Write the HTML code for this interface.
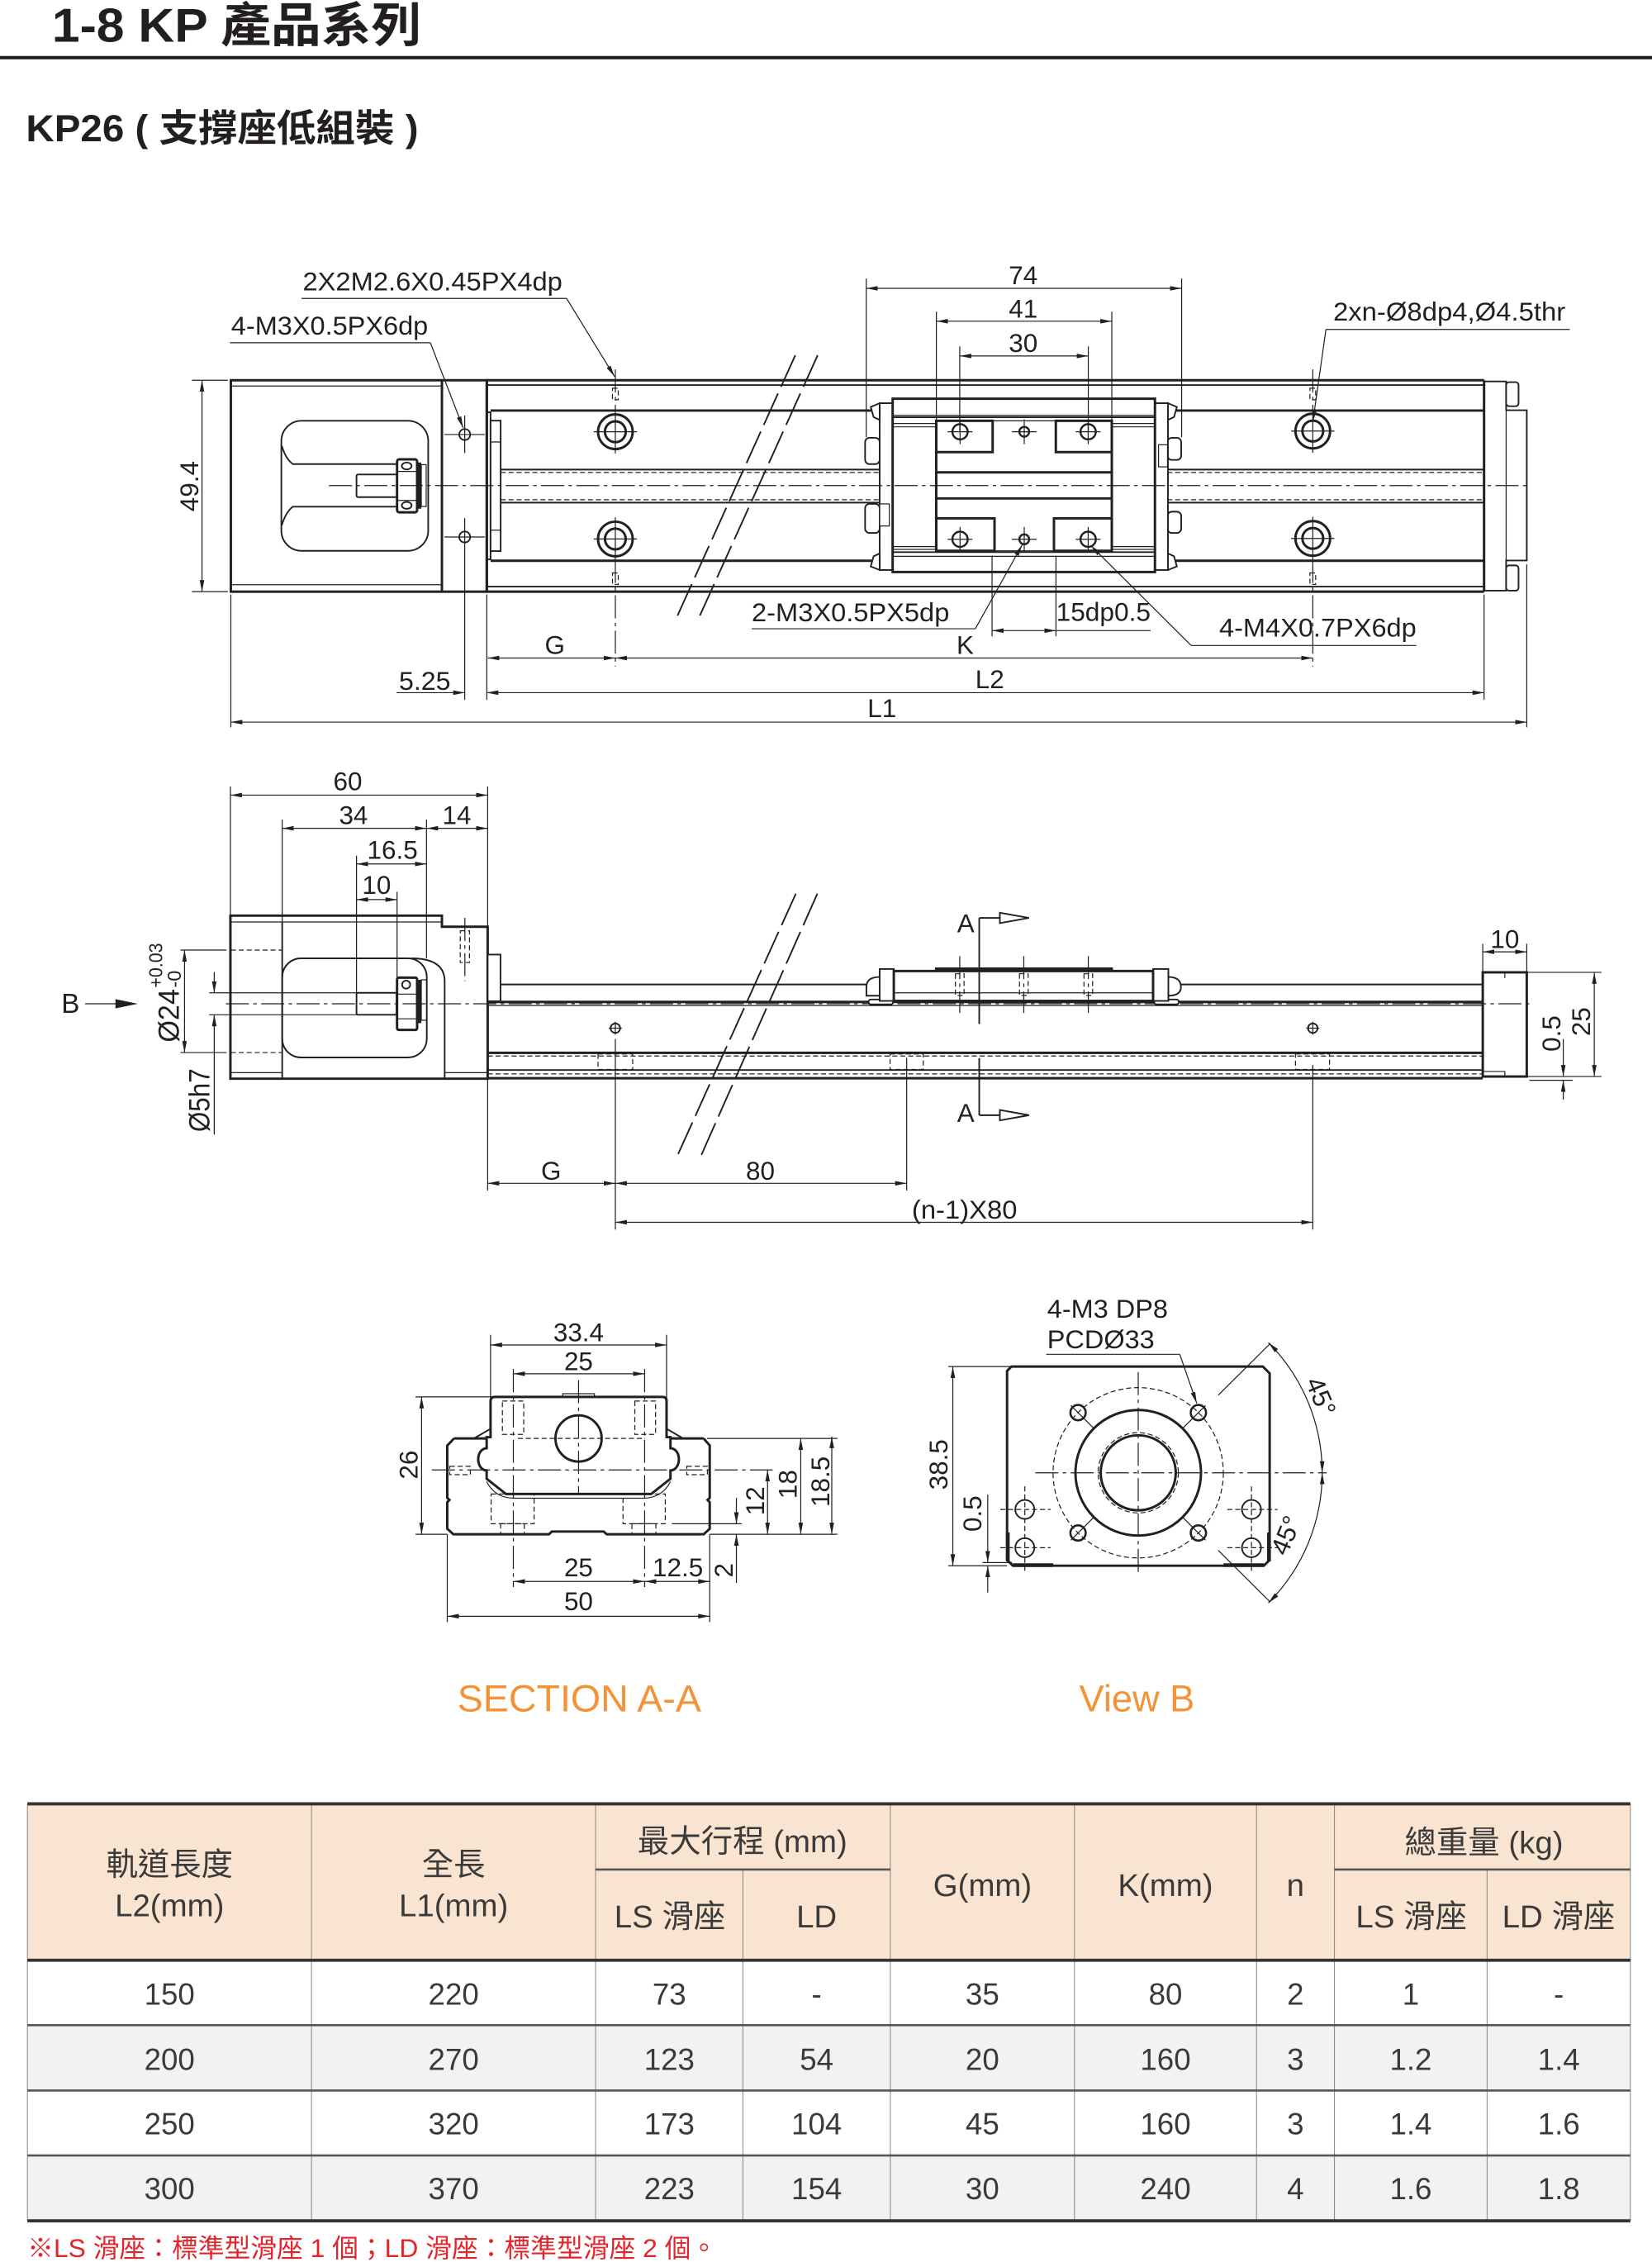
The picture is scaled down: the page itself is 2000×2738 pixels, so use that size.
<!DOCTYPE html>
<html><head><meta charset="utf-8"><title>KP26</title>
<style>
html,body{margin:0;padding:0;background:#fff;overflow:hidden;width:2000px;height:2738px}
svg{display:block}
.t{stroke:#231f20;stroke-width:.7;fill:none}
.m{stroke:#231f20;stroke-width:1.1;fill:none}
.k{stroke:#231f20;stroke-width:1.7;fill:none}
.w{fill:#fff}
.h{stroke-dasharray:3.5 2}
.c{stroke-dasharray:16 3 2.5 3}
.bk{stroke-dasharray:24 5}
.d{stroke:#231f20;stroke-width:.7;fill:none;marker-start:url(#ar);marker-end:url(#ar)}
.e{stroke:#231f20;stroke-width:.7;fill:none;marker-end:url(#ar)}
text{font-family:"Liberation Sans","Noto Sans CJK TC",sans-serif;font-size:18px;fill:#231f20}
.mid{text-anchor:middle}
.tb{font-size:21px;fill:#3a3a3a;text-anchor:middle}
.th{font-size:22px;fill:#3a3a3a;text-anchor:middle}
</style></head>
<body>
<svg xmlns="http://www.w3.org/2000/svg" width="2000" height="2738" viewBox="0 0 1145 1567.5" preserveAspectRatio="none">
<defs>
<marker id="ar" viewBox="0 0 10 4" refX="10" refY="2" markerWidth="8" markerHeight="3.2" markerUnits="userSpaceOnUse" orient="auto-start-reverse"><path d="M0,0L10,2L0,4z" fill="#231f20"/></marker>
</defs>
<rect x="0" y="0" width="1145" height="1567.5" fill="#fff"/>

<!-- ===== Header ===== -->
<text x="36" y="29" style="font-size:33px;font-weight:bold" textLength="256" lengthAdjust="spacingAndGlyphs">1-8 KP 產品系列</text>
<rect x="0" y="38.8" width="1145" height="2.3" fill="#231f20"/>
<text x="18" y="98" style="font-size:26px;font-weight:bold" textLength="272" lengthAdjust="spacingAndGlyphs">KP26 ( 支撐座低組裝 )</text>

<!-- ===== TOP VIEW ===== -->
<line class="t" x1="133" y1="263.5" x2="158" y2="263.5"/>
<line class="t" x1="133" y1="410" x2="158" y2="410"/>
<line class="d" x1="140" y1="263.5" x2="140" y2="410"/>
<text transform="translate(137.5,337) rotate(-90)" class="mid">49.4</text>

<!-- motor block -->
<rect class="k" x="160" y="263.5" width="177.4" height="146.5"/>
<line class="k" x1="306.3" y1="263.5" x2="306.3" y2="410"/>
<line class="t" x1="160" y1="267.5" x2="306.3" y2="267.5"/>
<line class="t" x1="160" y1="405.2" x2="306.3" y2="405.2"/>
<rect class="m" x="195" y="291.6" width="101.8" height="90.1" rx="14"/>
<path class="m" d="M195.3,309 Q198,318 203,321.6 L275.2,321.6 M195.3,364 Q198,355 203,351.1 L275.2,351.1"/>
<rect class="m w" x="247.1" y="328.8" width="28.1" height="15.7" rx="1"/>
<rect class="k w" x="275.2" y="318.3" width="13.9" height="36.7" rx="1.5"/>
<ellipse class="m" cx="281.9" cy="322.9" rx="3.4" ry="2.4"/>
<ellipse class="m" cx="281.9" cy="350.2" rx="3.4" ry="2.4"/>
<line class="t" x1="275.2" y1="326.7" x2="289.1" y2="326.7"/>
<line class="t" x1="275.2" y1="346.8" x2="289.1" y2="346.8"/>
<rect x="289.1" y="320.5" width="2.9" height="32" fill="#231f20"/>
<rect class="t" x="292" y="322" width="3.4" height="29"/>
<circle class="m" cx="322.1" cy="301.1" r="3.8"/>
<circle class="m" cx="322.1" cy="372.1" r="3.8"/>
<path class="t" d="M308,301.1h28M322.1,288v26M308,372.1h28M322.1,359v126"/>

<!-- rail -->
<line class="k" x1="337.4" y1="263.5" x2="1028.6" y2="263.5"/>
<line class="m" x1="337.4" y1="266.8" x2="1028.6" y2="266.8"/>
<line class="k" x1="340" y1="284.5" x2="1028.6" y2="284.5"/>
<line class="k" x1="340" y1="388.6" x2="1028.6" y2="388.6"/>
<line class="m" x1="337.4" y1="406.5" x2="1028.6" y2="406.5"/>
<line class="k" x1="337.4" y1="410" x2="1028.6" y2="410"/>
<line class="k" x1="337.4" y1="263.5" x2="337.4" y2="410"/>
<line class="k" x1="1028.6" y1="263.5" x2="1028.6" y2="410"/>
<rect class="m" x="337.4" y="285.7" width="2.6" height="101.9"/>
<rect class="m w" x="340" y="291.5" width="7" height="90.4"/>
<path class="t" d="M340,306.3h7M340,367.4h7"/>
<line class="m" x1="347" y1="325.4" x2="1028.6" y2="325.4"/>
<line class="t h" x1="347" y1="327.4" x2="1028.6" y2="327.4"/>
<line class="t h" x1="347" y1="346.3" x2="1028.6" y2="346.3"/>
<line class="m" x1="347" y1="348.3" x2="1028.6" y2="348.3"/>

<!-- counterbores -->
<g class="k">
<circle cx="426.5" cy="299.2" r="12"/><circle cx="426.5" cy="299.2" r="7.2"/>
<circle cx="426.5" cy="373.5" r="12"/><circle cx="426.5" cy="373.5" r="7.2"/>
<circle cx="909.9" cy="298.7" r="12"/><circle cx="909.9" cy="298.7" r="7.2"/>
<circle cx="909.9" cy="373.1" r="12"/><circle cx="909.9" cy="373.1" r="7.2"/>
</g>
<path class="t" d="M411.5,299.2h30M426.5,284.2v30M411.5,373.5h30M426.5,358.5v30M894.9,298.7h30M909.9,283.7v30M894.9,373.1h30M909.9,358.1v30"/>
<path class="t c" d="M426.5,256v28M426.5,388v74M909.9,256v28M909.9,388v74"/>
<rect class="t h" x="424.5" y="269" width="4" height="8"/>
<rect class="t h" x="424.5" y="397" width="4" height="8"/>
<rect class="t h" x="907.9" y="269" width="4" height="8"/>
<rect class="t h" x="907.9" y="397" width="4" height="8"/>

<!-- right end cap -->
<path class="m" d="M1028.6,264.3H1043.9V284.3H1058.2V388.4H1043.9V409.3H1028.6"/>
<line class="t" x1="1043.9" y1="266.8" x2="1043.9" y2="406.5"/>
<rect class="m w" x="1043.9" y="264.8" width="8.6" height="16.7" rx="2"/>
<rect class="m w" x="1043.9" y="391.8" width="8.6" height="17.5" rx="2"/>

<!-- break lines -->
<line class="m bk" x1="551.2" y1="246.2" x2="468.9" y2="428.1"/>
<line class="m bk" x1="566.7" y1="246.2" x2="484.4" y2="428.1"/>

<!-- carriage top view -->
<rect class="m w" x="599.6" y="303.4" width="10.1" height="18.2" rx="3"/>
<rect class="m w" x="599.6" y="349.2" width="10.1" height="20.1" rx="3"/>
<rect class="m w" x="809.2" y="303.4" width="9.5" height="15.3" rx="3"/>
<rect class="m w" x="809.2" y="354.6" width="9.5" height="14.7" rx="3"/>
<rect class="m w" x="609.7" y="279.4" width="9" height="115.6"/>
<rect class="m w" x="800.5" y="279.4" width="9" height="115.6"/>
<rect class="t w" x="609.7" y="349.2" width="6.7" height="15.3"/>
<rect class="t w" x="803" y="308.2" width="6.2" height="15.3"/>
<polygon class="m w" points="603.5,282 609.7,279.4 609.7,291 605.5,289"/>
<polygon class="m w" points="603.5,392.5 609.7,395 609.7,383.5 605.5,385.5"/>
<polygon class="m w" points="815.7,282 809.5,279.4 809.5,291 813.7,289"/>
<polygon class="m w" points="815.7,392.5 809.5,395 809.5,383.5 813.7,385.5"/>
<rect class="k w" x="618.7" y="276.3" width="181.8" height="120.1"/>
<path class="t" d="M618.7,287.8H800.5M618.7,385.5H800.5"/>
<path class="m" d="M618.7,289.1H800.5M618.7,382.6H800.5"/>
<path class="t" d="M618.7,293.5H648.9M618.7,295.8H648.9M618.7,378.8H648.9M618.7,380.7H648.9M770.6,293.5H800.5M770.6,295.8H800.5M770.6,378.8H800.5M770.6,380.7H800.5"/>
<g class="k">
<line x1="648.9" y1="291.6" x2="648.9" y2="381.7"/>
<line x1="770.6" y1="291.6" x2="770.6" y2="381.7"/>
<rect x="648.9" y="291.6" width="39.1" height="21.7"/>
<rect x="731.8" y="291.6" width="38.8" height="21.7"/>
<line x1="648.9" y1="327.3" x2="770.6" y2="327.3"/>
<line x1="648.9" y1="345.4" x2="770.6" y2="345.4"/>
<rect x="648.9" y="359.2" width="40.4" height="22.5"/>
<rect x="730.5" y="359.2" width="40.1" height="22.5"/>
</g>
<path class="t" d="M688,291.6H731.8M689.3,381.7H730.5"/>
<g class="k" style="stroke-width:1.4">
<circle cx="665.4" cy="299.2" r="5.3"/><circle cx="709.9" cy="299.2" r="3.4"/><circle cx="754.2" cy="299.2" r="5.3"/>
<circle cx="665.4" cy="373.7" r="5.3"/><circle cx="709.9" cy="373.7" r="3.4"/><circle cx="754.2" cy="373.7" r="5.3"/>
</g>
<path class="t" d="M656.8,299.2h17.2M665.4,290.6v17.2M701.3,299.2h17.2M709.9,290.6v17.2M745.6,299.2h17.2M754.2,290.6v17.2M656.8,373.7h17.2M665.4,365.1v17.2M701.3,373.7h17.2M709.9,365.1v17.2M745.6,373.7h17.2M754.2,365.1v17.2"/>

<line class="t c" x1="228" y1="336.5" x2="1060" y2="336.5"/>

<!-- top dims -->
<line class="d" x1="600.4" y1="199.8" x2="819" y2="199.8"/>
<path class="t" d="M600.4,193V303M819,193V303"/>
<text x="709.2" y="197" class="mid">74</text>
<line class="d" x1="649" y1="222.6" x2="770.6" y2="222.6"/>
<path class="t" d="M649,216V291.6M770.6,216V291.6"/>
<text x="709.2" y="220" class="mid">41</text>
<line class="d" x1="665.2" y1="246.7" x2="754.3" y2="246.7"/>
<path class="t" d="M665.2,240V299M754.3,240V299"/>
<text x="709.2" y="244" class="mid">30</text>

<!-- leaders -->
<text x="209.8" y="201.3" textLength="180" lengthAdjust="spacingAndGlyphs">2X2M2.6X0.45PX4dp</text>
<line class="t" x1="209" y1="206.8" x2="392.7" y2="206.8"/>
<line class="e" x1="392.7" y1="206.8" x2="426" y2="261"/>
<text x="160.2" y="231.9" textLength="136.5" lengthAdjust="spacingAndGlyphs">4-M3X0.5PX6dp</text>
<line class="t" x1="159.4" y1="237.5" x2="298.3" y2="237.5"/>
<line class="e" x1="298.3" y1="237.5" x2="321" y2="296.5"/>
<text x="924" y="222" textLength="161" lengthAdjust="spacingAndGlyphs">2xn-Ø8dp4,Ø4.5thr</text>
<line class="t" x1="919" y1="228.3" x2="1088" y2="228.3"/>
<line class="e" x1="919" y1="228.3" x2="910" y2="292"/>
<text x="521" y="430.5" textLength="137" lengthAdjust="spacingAndGlyphs">2-M3X0.5PX5dp</text>
<line class="t" x1="521" y1="435.7" x2="676" y2="435.7"/>
<line class="e" x1="676" y1="435.7" x2="708.5" y2="377.5"/>
<text x="732" y="430.2" textLength="65.5" lengthAdjust="spacingAndGlyphs">15dp0.5</text>
<path class="t" d="M687.6,385V441M731.9,385V441"/>
<line class="d" x1="687.6" y1="437" x2="731.9" y2="437"/>
<line class="t" x1="731.9" y1="437" x2="797.5" y2="437"/>
<text x="669" y="453" class="mid">K</text>
<text x="845" y="441" textLength="136.7" lengthAdjust="spacingAndGlyphs">4-M4X0.7PX6dp</text>
<line class="t" x1="825.6" y1="447.3" x2="981.7" y2="447.3"/>
<line class="e" x1="825.6" y1="447.3" x2="756" y2="378"/>

<!-- bottom dims top view -->
<path class="t" d="M160,412V504M337.4,412V485M1028.6,412V485M1058.2,391V504"/>
<line class="d" x1="338" y1="456" x2="426.5" y2="456"/>
<line class="d" x1="426.5" y1="456" x2="909.9" y2="456"/>
<text x="384.6" y="453" class="mid">G</text>
<line class="e" x1="274.8" y1="480" x2="322.1" y2="480"/>
<text x="276.5" y="478" textLength="35.8" lengthAdjust="spacingAndGlyphs">5.25</text>
<line class="d" x1="337.4" y1="480" x2="1028.6" y2="480"/>
<text x="686" y="477" class="mid">L2</text>
<line class="d" x1="160" y1="500.4" x2="1058.2" y2="500.4"/>
<text x="611.3" y="497" class="mid">L1</text>

<!-- ===== SIDE VIEW ===== -->
<path class="t" d="M159.7,545V634.5M338,545V642M195.6,568V639M295.6,568V664M247.1,593V688M275.2,618V677.5"/>
<line class="d" x1="159.7" y1="551" x2="338" y2="551"/>
<text x="241" y="547.5" class="mid">60</text>
<line class="d" x1="195.6" y1="574" x2="295.6" y2="574"/>
<line class="d" x1="295.6" y1="574" x2="338" y2="574"/>
<text x="245" y="571" class="mid">34</text>
<text x="316.6" y="571" class="mid">14</text>
<line class="d" x1="247.1" y1="598.7" x2="295.6" y2="598.7"/>
<text x="272" y="595" class="mid">16.5</text>
<line class="d" x1="247.1" y1="623.4" x2="275.2" y2="623.4"/>
<text x="261" y="619.5" class="mid">10</text>

<!-- motor block side -->
<path class="k" d="M159.7,634.5H306.3V642.2H338V747.5H159.7Z"/>
<line class="t" x1="159.7" y1="638.9" x2="306.3" y2="638.9"/>
<path class="t" d="M159.7,743.3H195.6M308.2,743.3H338"/>
<line class="m" x1="195.6" y1="638.9" x2="195.6" y2="747.5"/>
<rect class="m" x="195.6" y="664.1" width="100.2" height="68.7" rx="13"/>
<path class="m" d="M285,664.1 Q308.2,664.1 308.2,680 L308.2,747.5"/>
<path class="t h" d="M160,658.4H195.6M160,729.4H195.6"/>
<rect class="m w" x="247.1" y="688" width="27.7" height="15.2" rx="1"/>
<rect class="k w" x="275.2" y="677.5" width="13.9" height="36.2" rx="1.2"/>
<circle class="m" cx="281.5" cy="682.3" r="2.8"/>
<path class="t" d="M275.2,688.9h13.9M275.2,706h13.9"/>
<rect x="289.1" y="679" width="2.9" height="30" fill="#231f20"/>
<rect class="t" x="292" y="679" width="3.8" height="28"/>
<rect class="t h" x="319" y="645" width="6.4" height="22"/>
<line class="t c" x1="322.2" y1="636" x2="322.2" y2="680"/>
<rect class="m w" x="338" y="661.5" width="8.9" height="32.3"/>

<!-- Ø24, Ø5h7, B -->
<path class="t" d="M125,658.4H157M125,729.4H157M145,688H247.1M145,703.2H247.1"/>
<line class="d" x1="127.9" y1="658.4" x2="127.9" y2="729.4"/>
<line class="e" x1="148.5" y1="673.6" x2="148.5" y2="688"/>
<line class="e" x1="148.5" y1="786.2" x2="148.5" y2="703.2"/>
<text transform="translate(124,722.3) rotate(-90)" style="font-size:20px" textLength="37" lengthAdjust="spacingAndGlyphs">Ø24</text>
<text transform="translate(112.6,684.5) rotate(-90)" style="font-size:13px" textLength="31" lengthAdjust="spacingAndGlyphs">+0.03</text>
<text transform="translate(125.5,684.5) rotate(-90)" style="font-size:13px" textLength="12" lengthAdjust="spacingAndGlyphs">-0</text>
<text transform="translate(145,784.4) rotate(-90)" style="font-size:20px" textLength="44" lengthAdjust="spacingAndGlyphs">Ø5h7</text>
<text x="42.5" y="702" style="font-size:19px">B</text>
<line class="t" x1="59" y1="695.6" x2="82" y2="695.6"/>
<polygon points="80,692.4 95.5,695.6 80,698.8" fill="#231f20"/>

<!-- rail side -->
<line class="m" x1="346.9" y1="682.2" x2="1027.7" y2="682.2"/>
<line class="k" x1="338" y1="694.3" x2="1027.7" y2="694.3"/>
<line class="t" x1="338" y1="696.8" x2="1027.7" y2="696.8"/>
<line class="k" x1="338" y1="729.6" x2="1027.7" y2="729.6"/>
<line class="t h" x1="338" y1="731.8" x2="1027.7" y2="731.8"/>
<line class="m" x1="338" y1="741.5" x2="1027.7" y2="741.5"/>
<line class="t h" x1="338" y1="744.2" x2="1027.7" y2="744.2"/>
<line class="k" x1="338" y1="747.2" x2="1027.7" y2="747.2"/>
<circle class="m" cx="426.5" cy="712.5" r="3.3"/>
<circle class="m" cx="909.9" cy="712.5" r="3.3"/>
<path class="t" d="M426.5,708v9M422,712.5h9M909.9,708v9M905.4,712.5h9"/>
<rect class="t h" x="414.5" y="730.4" width="24" height="10.7"/>
<rect class="t h" x="616.9" y="730.4" width="23" height="10.7"/>
<rect class="t h" x="897.9" y="730.4" width="23.6" height="10.7"/>
<path class="t" d="M338,748V825M426.5,720V852M628.4,733V825M909.9,738V852"/>

<!-- end cap side -->
<rect class="k w" x="1027.7" y="673.8" width="30.5" height="72.2"/>
<path class="t" d="M1043,673.8v4M1027.7,742.5H1043V746"/>
<line class="t c" x1="156.5" y1="695.6" x2="1062" y2="695.6"/>

<!-- carriage side -->
<path class="m w" d="M609.7,677 Q600.5,677 600.5,684 L600.5,690 L609.7,690"/>
<path class="m w" d="M809.8,677 Q818.5,677 818.5,684 Q818.5,690 809.8,690"/>
<rect class="m w" x="602" y="692.6" width="17" height="3.4" rx="1.6"/>
<rect class="m w" x="800" y="692.6" width="17" height="3.4" rx="1.6"/>
<rect class="m w" x="609.7" y="671.5" width="9.8" height="22.1"/>
<rect class="m w" x="799.2" y="671.5" width="10.6" height="22.1"/>
<rect class="k w" x="619.5" y="672.9" width="179.7" height="20.7"/>
<rect x="648" y="670.4" width="123.4" height="2.2" fill="#231f20"/>
<line class="t" x1="619.5" y1="688" x2="799.2" y2="688"/>
<rect class="t h" x="662.2" y="674.8" width="6" height="15"/>
<rect class="t h" x="706.6" y="674.8" width="6" height="15"/>
<rect class="t h" x="751.3" y="674.8" width="6" height="15"/>
<path class="t c" d="M665.2,662.5V702M709.6,662.5V702M754.3,662.5V702"/>

<!-- section marks -->
<path class="m" d="M678.7,636.1V709.6M678.7,733.2V772.8M678.7,636.1H693M678.7,772.8H693"/>
<polygon class="m" points="693,632.5 713.2,636.1 693,639.7"/>
<polygon class="m" points="693,769.2 713.2,772.8 693,776.4"/>
<text x="669.4" y="646" class="mid">A</text>
<text x="669.4" y="777.4" class="mid">A</text>

<!-- right side dims -->
<path class="t" d="M1027.7,654V673.8M1058.2,654V673.8M1058.2,673.8H1110M1058.2,746H1110M1060,748.6H1090"/>
<line class="d" x1="1027.7" y1="659.6" x2="1058.2" y2="659.6"/>
<text x="1043" y="656.8" class="mid">10</text>
<line class="e" x1="1083.5" y1="720" x2="1083.5" y2="746"/>
<line class="e" x1="1083.5" y1="762" x2="1083.5" y2="748.6"/>
<text transform="translate(1081.5,716.2) rotate(-90)" class="mid">0.5</text>
<line class="d" x1="1105" y1="673.8" x2="1105" y2="746"/>
<text transform="translate(1102,708) rotate(-90)" class="mid">25</text>

<line class="m bk" x1="551.6" y1="619.3" x2="468.8" y2="802.4"/>
<line class="m bk" x1="566.5" y1="619.3" x2="485.2" y2="802.4"/>

<!-- bottom dims side -->
<line class="d" x1="338" y1="820" x2="426.5" y2="820"/>
<text x="382" y="817.5" class="mid">G</text>
<line class="d" x1="426.5" y1="820" x2="628.4" y2="820"/>
<text x="527" y="817.5" class="mid">80</text>
<line class="d" x1="426.5" y1="847" x2="909.9" y2="847"/>
<text x="668.5" y="844.5" class="mid" textLength="73" lengthAdjust="spacingAndGlyphs">(n-1)X80</text>

<!-- ===== SECTION A-A ===== -->
<path class="k" d="M314.7,996.8 L310,1001.7 L310,1038 L311.5,1039.4 L310,1041 L310,1059.4 L314.2,1063.2 L380.5,1063.2 L382.5,1061.3 L418.4,1061.3 L420.5,1063.2 L487.7,1063.2 L491.9,1059.4 L491.9,1041 L490.4,1039.4 L491.9,1038 L491.9,1001.7 L487.7,996.8 M314.7,996.8 H337.3 M464.7,996.8 H487.7"/>
<path class="k w" d="M340,970.9 L340,995.9 L337.3,995.9 L337.3,1003.6 C329.5,1004 329.5,1018.5 337.3,1019 L337.3,1024.7 L350.7,1035.3 L451.3,1035.3 L464.7,1024.7 L464.7,1019 C472.5,1018.5 472.5,1004 464.7,1003.6 L464.7,995.9 L462,995.9 L462,970.9 Q462,968 459,968 L343,968 Q340,968 340,970.9 Z"/>
<path class="t" d="M337.3,1026.7 Q343,1038 356,1038.2 L446,1038.2 Q459,1038 464.7,1026.7"/>
<rect class="t" x="390" y="965.8" width="22" height="2.4"/>
<path class="m" d="M340,990.1L328.5,996.8M462,990.1L473.5,996.8"/>
<circle class="k" cx="401" cy="996.8" r="16"/>
<line class="t c" x1="401" y1="956.4" x2="401" y2="1034.4"/>
<line class="t h" x1="358.9" y1="996.8" x2="447.2" y2="996.8"/>
<line class="t c" x1="299.3" y1="1018.6" x2="535.5" y2="1018.6"/>
<rect class="t h" x="348.2" y="970.9" width="14.8" height="23.1"/>
<rect class="t h" x="440" y="970.9" width="14.4" height="23.1"/>
<path class="t c" d="M355.8,948.7V1099.8M446.8,948.7V1099.8"/>
<rect class="t h" x="340.4" y="1035.3" width="29.8" height="20.6"/>
<rect class="t h" x="347" y="1055.9" width="16.4" height="7.3"/>
<rect class="t h" x="431.8" y="1035.3" width="29.3" height="20.6"/>
<rect class="t h" x="438" y="1055.9" width="16.6" height="7.3"/>
<rect class="t h" x="311.7" y="1016.1" width="14.3" height="5.8"/>
<rect class="t h" x="476" y="1016.1" width="14.3" height="5.8"/>
<path class="t" d="M340,925V968M462,925V970M288,968H342M288,1063.2H310M490,996.8H580.4M491.9,1063.2H580.4M465.7,1055.9H514M310,1063.2V1124M491.9,1063.2V1124"/>
<line class="d" x1="340" y1="932" x2="462" y2="932"/>
<text x="401" y="929.5" class="mid">33.4</text>
<line class="d" x1="355.8" y1="952" x2="446.8" y2="952"/>
<text x="401" y="949.5" class="mid">25</text>
<line class="d" x1="292.2" y1="968" x2="292.2" y2="1063.2"/>
<text transform="translate(289.3,1015.1) rotate(-90)" class="mid">26</text>
<line class="d" x1="532" y1="1018.6" x2="532" y2="1063.2"/>
<text transform="translate(529.7,1040.1) rotate(-90)" class="mid">12</text>
<line class="d" x1="555" y1="996.8" x2="555" y2="1063.2"/>
<text transform="translate(552.2,1028.6) rotate(-90)" class="mid">18</text>
<line class="d" x1="576.5" y1="995.5" x2="576.5" y2="1063.2"/>
<text transform="translate(574.8,1026.7) rotate(-90)" class="mid">18.5</text>
<line class="e" x1="510.4" y1="1038" x2="510.4" y2="1055.9"/>
<line class="e" x1="510.4" y1="1096.9" x2="510.4" y2="1063.2"/>
<text transform="translate(507.8,1088.2) rotate(-90)" class="mid">2</text>
<line class="d" x1="355.8" y1="1095.9" x2="446.8" y2="1095.9"/>
<text x="401" y="1092.4" class="mid">25</text>
<line class="d" x1="446.8" y1="1095.9" x2="491.9" y2="1095.9"/>
<text x="469.8" y="1092.4" class="mid">12.5</text>
<line class="d" x1="310" y1="1120" x2="491.9" y2="1120"/>
<text x="401" y="1115.9" class="mid">50</text>
<text x="317" y="1186" style="font-size:26px;fill:#F39237" textLength="169" lengthAdjust="spacingAndGlyphs">SECTION A-A</text>

<!-- ===== VIEW B ===== -->
<text x="725.8" y="913" textLength="83.7" lengthAdjust="spacingAndGlyphs">4-M3 DP8</text>
<text x="725.8" y="934.2" textLength="74.4" lengthAdjust="spacingAndGlyphs">PCDØ33</text>
<line class="t" x1="725.1" y1="938.5" x2="817.7" y2="938.5"/>
<line class="e" x1="817.7" y1="938.5" x2="829.5" y2="972.5"/>
<path class="k" d="M701,947 L875.3,947 L880,951.7 L880,1081 L876,1085 L702,1085 L698,1081 L698,950 Z"/>
<path class="k" style="stroke-width:2.6" d="M698.5,1062V1082M879.5,1062V1082M702,1084.6H730M848,1084.6H876"/>
<circle class="t h" cx="788.9" cy="1020.6" r="59"/>
<circle class="k" cx="788.9" cy="1020.6" r="43.5"/>
<circle class="k" cx="788.9" cy="1020.6" r="26"/>
<circle class="t h" cx="788.9" cy="1020.6" r="27.8"/>
<path class="t" d="M758.1,989.8L742.2,973.9M819.7,989.8L835.6,973.9M758.1,1051.4L742.2,1067.3M819.7,1051.4L835.6,1067.3"/>
<g class="k" style="stroke-width:1.5">
<circle cx="747.2" cy="978.9" r="5.3"/><circle cx="830.6" cy="978.9" r="5.3"/>
<circle cx="747.2" cy="1062.3" r="5.3"/><circle cx="830.6" cy="1062.3" r="5.3"/>
</g>
<g class="m">
<circle cx="710.3" cy="1046" r="6.6"/><circle cx="710.3" cy="1072.5" r="6.6"/>
<circle cx="867.4" cy="1046" r="6.6"/><circle cx="867.4" cy="1072.5" r="6.6"/>
</g>
<path class="t h" d="M693.3,1046H728.2M693.3,1072.5H728.2M710.3,1030V1090M850.6,1046H885.5M850.6,1072.5H885.5M867.4,1030V1090"/>
<line class="t c" x1="717.5" y1="1020.6" x2="919.5" y2="1020.6"/>
<line class="t c" x1="788.9" y1="950.8" x2="788.9" y2="1090.4"/>
<path class="t" d="M657.3,947H700M657.3,1085H698M681,1082.8H701.5"/>
<line class="d" x1="660.4" y1="947" x2="660.4" y2="1085"/>
<text transform="translate(656.6,1014.9) rotate(-90)" class="mid">38.5</text>
<line class="e" x1="684.6" y1="1035.7" x2="684.6" y2="1082.8"/>
<line class="e" x1="684.6" y1="1103.6" x2="684.6" y2="1085"/>
<text transform="translate(680.2,1048.9) rotate(-90)" class="mid">0.5</text>
<path class="t" d="M844.4,966.8L880.4,931M844.4,1074.4L880.4,1110.2"/>
<path class="d" d="M879.1,930.4 A127.5,127.5 0 0 1 916.4,1020.6"/>
<path class="d" d="M916.4,1020.6 A127.5,127.5 0 0 1 879.1,1110.8"/>
<text transform="translate(915.4,967.8) rotate(67.5)" class="mid" dy="6">45°</text>
<text transform="translate(891.4,1064) rotate(-67.5)" class="mid" dy="6">45°</text>
<text x="748" y="1186" style="font-size:26px;fill:#F39237" textLength="80" lengthAdjust="spacingAndGlyphs">View B</text>

<!-- ===== TABLE ===== -->
<rect x="19" y="1250" width="1111" height="108.4" fill="#F9E4D1"/>
<rect x="19" y="1358.4" width="1111" height="45" fill="#fff"/>
<rect x="19" y="1403.4" width="1111" height="45.3" fill="#F1F2F4"/>
<rect x="19" y="1448.7" width="1111" height="45" fill="#fff"/>
<rect x="19" y="1493.7" width="1111" height="45.3" fill="#F1F2F4"/>
<g stroke="#8a8a8a" stroke-width=".6">
<path d="M19,1250V1539M1130,1250V1539M215.9,1250V1539M412.8,1250V1539M617.1,1250V1539M744.7,1250V1539M870.9,1250V1539M924.9,1250V1539M514.9,1295.5V1539M1030.7,1295.5V1539"/>
</g>
<g stroke="#555" stroke-width="1.5">
<path d="M412.8,1295.5H617.1M924.9,1295.5H1130M19,1403.4H1130M19,1448.7H1130M19,1493.7H1130"/>
</g>
<g stroke="#333" stroke-width="2.2">
<path d="M19,1250H1130M19,1358.4H1130M19,1539H1130"/>
</g>
<text x="117.5" y="1299.5" class="th">軌道長度</text>
<text x="117.5" y="1328" class="th">L2(mm)</text>
<text x="314.4" y="1299.5" class="th">全長</text>
<text x="314.4" y="1328" class="th">L1(mm)</text>
<text x="514.6" y="1283.5" class="th">最大行程 (mm)</text>
<text x="464.3" y="1335.5" class="th">LS 滑座</text>
<text x="566" y="1335.5" class="th">LD</text>
<text x="681" y="1314" class="th">G(mm)</text>
<text x="807.8" y="1314" class="th">K(mm)</text>
<text x="897.9" y="1314" class="th">n</text>
<text x="1028.5" y="1284.5" class="th">總重量 (kg)</text>
<text x="978.2" y="1335.5" class="th">LS 滑座</text>
<text x="1080.3" y="1335.5" class="th">LD 滑座</text>

<g>
<text x="117.5" y="1389.3" class="tb">150</text><text x="314.4" y="1389.3" class="tb">220</text><text x="463.9" y="1389.3" class="tb">73</text><text x="566" y="1389.3" class="tb">-</text><text x="680.9" y="1389.3" class="tb">35</text><text x="807.8" y="1389.3" class="tb">80</text><text x="897.9" y="1389.3" class="tb">2</text><text x="977.8" y="1389.3" class="tb">1</text><text x="1080.4" y="1389.3" class="tb">-</text>
<text x="117.5" y="1434.4" class="tb">200</text><text x="314.4" y="1434.4" class="tb">270</text><text x="463.9" y="1434.4" class="tb">123</text><text x="566" y="1434.4" class="tb">54</text><text x="680.9" y="1434.4" class="tb">20</text><text x="807.8" y="1434.4" class="tb">160</text><text x="897.9" y="1434.4" class="tb">3</text><text x="977.8" y="1434.4" class="tb">1.2</text><text x="1080.4" y="1434.4" class="tb">1.4</text>
<text x="117.5" y="1479" class="tb">250</text><text x="314.4" y="1479" class="tb">320</text><text x="463.9" y="1479" class="tb">173</text><text x="566" y="1479" class="tb">104</text><text x="680.9" y="1479" class="tb">45</text><text x="807.8" y="1479" class="tb">160</text><text x="897.9" y="1479" class="tb">3</text><text x="977.8" y="1479" class="tb">1.4</text><text x="1080.4" y="1479" class="tb">1.6</text>
<text x="117.5" y="1524.1" class="tb">300</text><text x="314.4" y="1524.1" class="tb">370</text><text x="463.9" y="1524.1" class="tb">223</text><text x="566" y="1524.1" class="tb">154</text><text x="680.9" y="1524.1" class="tb">30</text><text x="807.8" y="1524.1" class="tb">240</text><text x="897.9" y="1524.1" class="tb">4</text><text x="977.8" y="1524.1" class="tb">1.6</text><text x="1080.4" y="1524.1" class="tb">1.8</text>
</g>
<text x="19" y="1564" style="font-size:18px;fill:#E3242B" textLength="478" lengthAdjust="spacingAndGlyphs">※LS 滑座：標準型滑座 1 個；LD 滑座：標準型滑座 2 個。</text>
</svg>
</body></html>
